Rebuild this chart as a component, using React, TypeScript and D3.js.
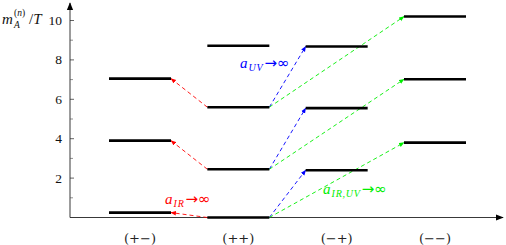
import React, { useEffect, useRef } from 'react';
import * as d3 from 'd3';

// boundary conditions (columns)
const categories = ['(+−)', '(++)', '(−+)', '(−−)'];

// KK mass levels m_A^(n)/T per column
const levelsPM = [0.25, 3.9, 7.05];
const levelsPP = [0, 2.45, 5.6, 8.72];
const levelsMP = [2.4, 5.55, 8.68];
const levelsMM = [3.8, 7.02, 10.2];

const yMajorTicks = [2, 4, 6, 8, 10];
const yMinorTicks = [1, 3, 5, 7, 9];

const RED = '#ff0000';
const BLUE = '#0000ff';
const GREEN = '#00ee00';
const SERIF = "'Liberation Serif', serif";

const App = () => {
  const ref = useRef<SVGSVGElement | null>(null);

  useEffect(() => {
    if (!ref.current) return;
    const svg = d3.select(ref.current);
    svg.selectAll('*').remove();

    const x = d3.scalePoint().domain(categories).range([140, 435]);
    const y = d3.scaleLinear().domain([0, 10]).range([217.5, 20.5]);
    const halfW = 31;
    const x0 = 70;

    const defs = svg.append('defs');
    const mk = (id: string, color: string, size: number) => {
      defs.append('marker')
        .attr('id', id)
        .attr('viewBox', '0 0 10 10')
        .attr('refX', 9).attr('refY', 5)
        .attr('markerWidth', size).attr('markerHeight', size)
        .attr('markerUnits', 'userSpaceOnUse')
        .attr('orient', 'auto')
        .append('path').attr('d', 'M0,1 L10,5 L0,9 Z').attr('fill', color);
    };
    mk('arr-k', '#000', 8);
    mk('arr-r', RED, 5.5);
    mk('arr-b', BLUE, 5.5);
    mk('arr-g', GREEN, 5.5);

    // axes
    svg.append('line')
      .attr('x1', x0).attr('x2', x0).attr('y1', y(0)).attr('y2', 3)
      .attr('stroke', '#222').attr('stroke-width', 0.9).attr('marker-end', 'url(#arr-k)');
    svg.append('line')
      .attr('x1', x0).attr('x2', 503).attr('y1', y(0)).attr('y2', y(0))
      .attr('stroke', '#222').attr('stroke-width', 0.9).attr('marker-end', 'url(#arr-k)');

    svg.selectAll('.tick-major').data(yMajorTicks).enter().append('line')
      .attr('x1', x0).attr('x2', x0 + 4)
      .attr('y1', d => y(d)).attr('y2', d => y(d))
      .attr('stroke', '#222').attr('stroke-width', 0.7);
    svg.selectAll('.tick-minor').data(yMinorTicks).enter().append('line')
      .attr('x1', x0).attr('x2', x0 + 3)
      .attr('y1', d => y(d)).attr('y2', d => y(d))
      .attr('stroke', '#444').attr('stroke-width', 0.6);
    svg.selectAll('.tick-label').data(yMajorTicks).enter().append('text')
      .attr('x', 62).attr('y', d => y(d) + 4.5)
      .attr('text-anchor', 'end')
      .attr('font-family', SERIF).attr('font-size', 13.5)
      .attr('fill', '#111')
      .text(d => d);

    // y label m_A^(n)/T
    const lab = svg.append('g').attr('font-family', SERIF).attr('fill', '#111');
    lab.append('text').attr('x', 2).attr('y', 24).attr('font-size', 15)
      .attr('font-style', 'italic').text('m');
    const sup = lab.append('text').attr('x', 14).attr('y', 16).attr('font-size', 9.5);
    sup.append('tspan').text('(');
    sup.append('tspan').attr('font-style', 'italic').text('n');
    sup.append('tspan').text(')');
    lab.append('text').attr('x', 14).attr('y', 28).attr('font-size', 9.5)
      .attr('font-style', 'italic').text('A');
    const sl = lab.append('text').attr('x', 29).attr('y', 24).attr('font-size', 15);
    sl.append('tspan').text('/');
    sl.append('tspan').attr('font-style', 'italic').text('T');

    // category labels
    svg.selectAll('.cat').data(categories).enter().append('text')
      .attr('x', d => x(d) as number).attr('y', 243)
      .attr('text-anchor', 'middle')
      .attr('font-family', "'DejaVu Serif', serif").attr('font-size', 13)
      .attr('fill', '#222')
      .text(d => d);

    // dashed transitions
    const dashed = (x1: number, y1: number, x2: number, y2: number, color: string, m: string) => {
      svg.append('line')
        .attr('x1', x1).attr('y1', y1).attr('x2', x2).attr('y2', y2)
        .attr('stroke', color).attr('stroke-width', 0.9)
        .attr('stroke-dasharray', '4,3')
        .attr('marker-end', `url(#${m})`);
    };
    const ppL = (x('(++)') as number) - halfW;
    const ppR = (x('(++)') as number) + halfW;
    levelsPM.forEach((v, i) => {
      dashed(ppL, y(levelsPP[i]), (x('(+−)') as number) + halfW, y(v), RED, 'arr-r');
    });
    levelsMP.forEach((v, i) => {
      dashed(ppR, y(levelsPP[i]), (x('(−+)') as number) - halfW, y(v), BLUE, 'arr-b');
    });
    levelsMM.forEach((v, i) => {
      dashed(ppR, y(levelsPP[i]), (x('(−−)') as number) - halfW, y(v), GREEN, 'arr-g');
    });

    // level bars
    const cols: [string, number[]][] = [
      ['(+−)', levelsPM], ['(++)', levelsPP], ['(−+)', levelsMP], ['(−−)', levelsMM],
    ];
    cols.forEach(([c, vals]) => {
      svg.selectAll(null).data(vals).enter().append('line')
        .attr('x1', (x(c) as number) - halfW).attr('x2', (x(c) as number) + halfW)
        .attr('y1', d => y(d)).attr('y2', d => y(d))
        .attr('stroke', '#000').attr('stroke-width', 2.6);
    });

    // annotations
    const note = (tx: number, ty: number, sub: string, color: string) => {
      const t = svg.append('text').attr('x', tx).attr('y', ty)
        .attr('font-family', SERIF).attr('font-size', 15).attr('fill', color);
      t.append('tspan').attr('font-style', 'italic').text('a');
      t.append('tspan').attr('font-style', 'italic').attr('font-size', 10)
        .attr('letter-spacing', 0.8).attr('dy', 3).attr('dx', 1).text(sub);
      t.append('tspan').attr('font-family', "'DejaVu Sans', sans-serif").attr('font-size', 15)
        .attr('dy', -3).attr('dx', 1).text('→∞');
    };
    note(165, 204, 'IR', RED);
    note(240, 68, 'UV', BLUE);
    note(323, 194, 'IR,UV', GREEN);
  }, []);

  return <svg ref={ref} width={506} height={245} style={{ position: 'absolute', left: 0, top: 0 }} />;
};

export default App;
